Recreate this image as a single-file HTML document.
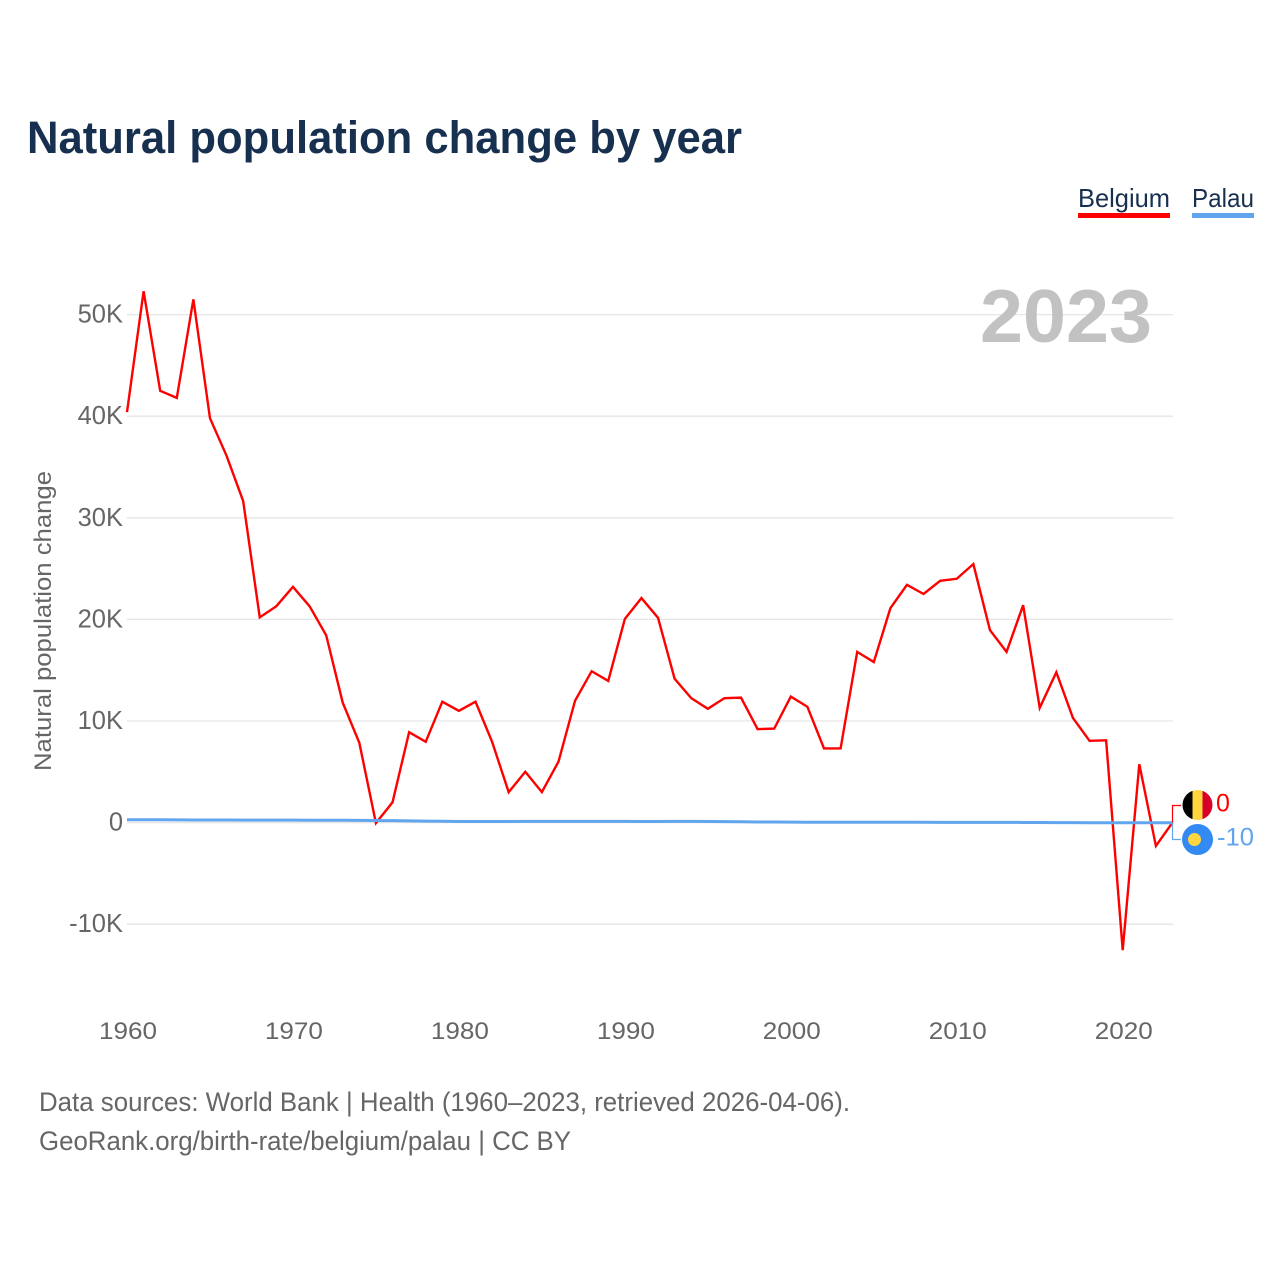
<!DOCTYPE html>
<html lang="en">
<head>
<meta charset="utf-8">
<title>Natural population change by year</title>
<style>
html,body{margin:0;padding:0;background:#fff;}
svg{display:block;font-family:"Liberation Sans",sans-serif;}
</style>
</head>
<body>
<svg id="chart" xmlns="http://www.w3.org/2000/svg" width="1280" height="1280" viewBox="0 0 1280 1280">
  <rect x="0" y="0" width="1280" height="1280" fill="#ffffff"/>
  <text x="27" y="153" font-size="45" font-weight="700" fill="#18304f" textLength="715" lengthAdjust="spacingAndGlyphs">Natural population change by year</text>

  <g>
    <text x="1078" y="207" font-size="26" fill="#18304f" textLength="92" lengthAdjust="spacingAndGlyphs">Belgium</text>
    <rect x="1078" y="213" width="92" height="5" fill="#ff0000"/>
  </g>
  <g>
    <text x="1192" y="207" font-size="26" fill="#18304f" textLength="62" lengthAdjust="spacingAndGlyphs">Palau</text>
    <rect x="1192" y="213" width="62" height="5" fill="#60a5ee"/>
  </g>

  <g id="grid"></g>
  <text x="980" y="342" font-size="75" font-weight="700" fill="#bfbfbf" fill-opacity="0.95" textLength="172" lengthAdjust="spacingAndGlyphs">2023</text>
  <g id="y-labels"></g>
  <g id="x-labels"></g>
  <text transform="translate(51 621) rotate(-90)" font-size="24" fill="#666666" text-anchor="middle" textLength="300" lengthAdjust="spacingAndGlyphs">Natural population change</text>

  <g id="series"></g>

  <g>
    <path id="conn-be" fill="none" stroke="#ff0000" stroke-width="1.200"/>
    <g>
      <clipPath id="clip-be"><circle cx="1197.500" cy="805" r="15"/></clipPath>
      <g clip-path="url(#clip-be)">
        <rect x="1182.500" y="790" width="10" height="30" fill="#000000"/>
        <rect x="1192.500" y="790" width="10" height="30" fill="#ffd63f"/>
        <rect x="1202.500" y="790" width="10" height="30" fill="#d80027"/>
      </g>
    </g>
    <text id="val-be" x="1216" y="811.500" font-size="25" fill="#ff0000"></text>
  </g>
  <g>
    <path id="conn-pw" fill="none" stroke="#60a5ee" stroke-width="1.200"/>
    <g>
      <circle cx="1197.500" cy="839.500" r="15.500" fill="#338af3"/>
      <circle cx="1194.500" cy="839.500" r="6.500" fill="#ffd63f"/>
    </g>
    <text id="val-pw" x="1217" y="845.500" font-size="25" fill="#60a5ee" textLength="37" lengthAdjust="spacingAndGlyphs"></text>
  </g>

  <text x="39" y="1111" font-size="26.500" fill="#666666" textLength="811" lengthAdjust="spacingAndGlyphs">Data sources: World Bank | Health (1960–2023, retrieved 2026-04-06).</text>
  <text x="39" y="1150" font-size="26.500" fill="#666666" textLength="532" lengthAdjust="spacingAndGlyphs">GeoRank.org/birth-rate/belgium/palau | CC BY</text>
</svg>
<script>
const startYear = 1960;
const belgiumValues = [40400,52300,42500,41800,51500,39800,36100,31650,20200,21300,23200,21300,18450,11800,7850,-50,2000,8900,7950,11900,11000,11900,7950,3000,5000,3000,6000,12000,14900,13950,20050,22100,20150,14150,12250,11200,12250,12300,9200,9250,12400,11400,7300,7300,16800,15800,21100,23400,22500,23800,24000,25450,18950,16800,21400,11300,14800,10300,8050,8100,-12550,5750,-2300,0];
const palauValues = [280,280,280,270,260,250,250,245,240,240,240,235,230,225,215,205,190,170,150,130,110,105,105,110,115,115,115,120,120,120,115,110,110,115,115,110,100,80,65,55,45,40,40,40,35,35,30,30,30,25,25,25,20,20,15,5,0,-5,-15,-15,-20,-15,-15,-10];
const yTicks = [-10000,0,10000,20000,30000,40000,50000];
const yTickLabels = ['-10K','0','10K','20K','30K','40K','50K'];
const xTicks = [1960,1970,1980,1990,2000,2010,2020];
const endLabels = ['0','-10'];

const NS = 'http://www.w3.org/2000/svg';
function xScale(year){ return 127 + (year - 1960) * (1172.5 - 127) / 63; }
function yScale(v){ return 822.6 - v * 101.6 / 10000; }
function make(tag, parent){ const el = document.createElementNS(NS, tag); parent.appendChild(el); return el; }

const grid = document.getElementById('grid');
const yLabels = document.getElementById('y-labels');
yTicks.forEach(function(t, i){
  const line = make('line', grid);
  
  
  line.setAttribute('x1', 127);
  line.setAttribute('x2', 1173);
  line.setAttribute('y1', yScale(t));
  line.setAttribute('y2', yScale(t));
  line.setAttribute('stroke', '#e6e6e6');
  line.setAttribute('stroke-width', 1.300);
  const label = make('text', yLabels);
  
  
  label.setAttribute('x', 123);
  label.setAttribute('y', yScale(t) + 8);
  label.setAttribute('text-anchor', 'end');
  label.setAttribute('font-size', 25.500);
  label.setAttribute('fill', '#666666');
  label.textContent = yTickLabels[i];
});

const xLabels = document.getElementById('x-labels');
xTicks.forEach(function(t){
  const label = make('text', xLabels);
  
  
  label.setAttribute('x', xScale(t) + 1);
  label.setAttribute('y', 1039);
  label.setAttribute('text-anchor', 'middle');
  label.setAttribute('font-size', 24);
  label.setAttribute('fill', '#666666');
  label.setAttribute('textLength', 58);
  label.setAttribute('lengthAdjust', 'spacingAndGlyphs');
  label.textContent = String(t);
});

function linePath(values){
  return values.map(function(v, i){
    return (i ? 'L' : 'M') + xScale(startYear + i).toFixed(2) + ' ' + yScale(v).toFixed(2);
  }).join(' ');
}
const series = document.getElementById('series');
const belgiumLine = make('path', series);


belgiumLine.setAttribute('d', linePath(belgiumValues));
belgiumLine.setAttribute('fill', 'none');
belgiumLine.setAttribute('stroke', '#ff0000');
belgiumLine.setAttribute('stroke-width', 2.400);
belgiumLine.setAttribute('stroke-linejoin', 'miter');
const palauLine = make('path', series);


palauLine.setAttribute('d', linePath(palauValues));
palauLine.setAttribute('fill', 'none');
palauLine.setAttribute('stroke', '#60a5ee');
palauLine.setAttribute('stroke-width', 3);

const endX = xScale(2023);
const beEnd = yScale(belgiumValues[belgiumValues.length - 1]);
const pwEnd = yScale(palauValues[palauValues.length - 1]);
document.getElementById('conn-be').setAttribute('d', 'M' + endX + ' ' + beEnd + ' V805.500 H1181');
document.getElementById('conn-pw').setAttribute('d', 'M' + endX + ' ' + pwEnd + ' V839.500 H1181');
document.getElementById('val-be').textContent = endLabels[0];
document.getElementById('val-pw').textContent = endLabels[1];
</script>
</body>
</html>
